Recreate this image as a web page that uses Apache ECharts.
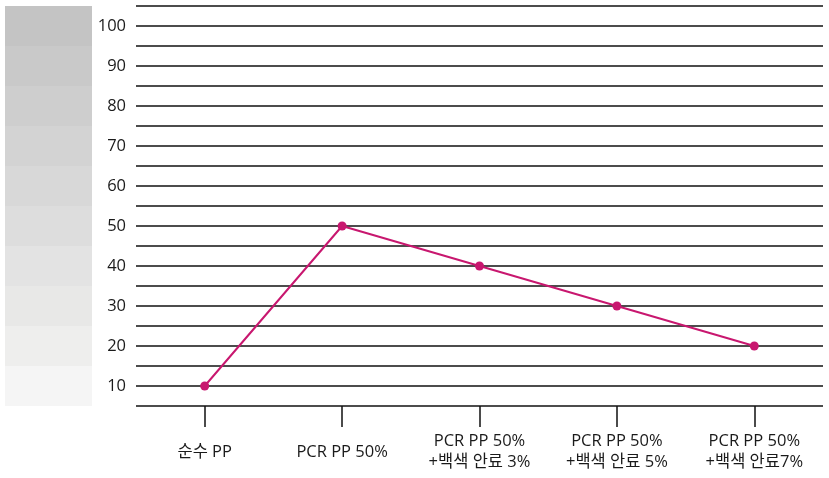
<!DOCTYPE html>
<html>
<head>
<meta charset="utf-8">
<script src="https://cdn.jsdelivr.net/npm/echarts@6/dist/echarts.min.js"></script>
<style>
  html, body { margin: 0; padding: 0; background: #fff; }
  #chart { width: 829px; height: 478px; }
</style>
</head>
<body>
<div id="chart"></div>
<script>
// 카테고리와 값
var categories = ['순수 PP', 'PCR PP 50%', 'PCR PP 50%\n+백색 안료 3%', 'PCR PP 50%\n+백색 안료 5%', 'PCR PP 50%\n+백색 안료7%'];
var values = [10, 50, 40, 30, 20];
var bandLevels = [100, 90, 80, 70, 60, 50, 40, 30, 20, 10];

// 왼쪽 회색 띠 색상 (위에서 아래로)
var bandColors = ['#c4c4c4', '#c9c9c9', '#cecece', '#d3d3d3', '#d8d8d8',
                  '#dddddd', '#e3e3e3', '#e8e8e7', '#eeeeed', '#f5f5f5'];

var font = '"Open Sans", "Noto Sans CJK KR", sans-serif';

function chart_init() {
    var myChart = echarts.init(document.getElementById('chart'));

    var bands = bandLevels.map(function (v, i) {
        return [{ yAxis: v - 5, itemStyle: { color: bandColors[i] } }, { yAxis: v + 5 }];
    });

    var option = {
        animation: false,
        grid: [
            { left: 136, right: 6, top: 6, bottom: 72 },
            { left: 5, width: 87, top: 6, bottom: 72 }
        ],
        xAxis: [
            {
                type: 'category',
                gridIndex: 0,
                data: categories,
                axisLine: { show: false },
                axisTick: { show: true, alignWithLabel: true, length: 21, lineStyle: { color: '#111', width: 1.5 } },
                axisLabel: {
                    color: '#1a1a1a',
                    fontSize: 16.5,
                    fontFamily: font,
                    lineHeight: 21,
                    margin: 46,
                    verticalAlign: 'middle',
                    interval: 0
                }
            },
            { type: 'value', gridIndex: 1, min: 0, max: 1, show: false }
        ],
        yAxis: [
            {
                type: 'value',
                gridIndex: 0,
                min: 5,
                max: 105,
                interval: 5,
                axisLine: { show: false },
                axisTick: { show: false },
                splitLine: { lineStyle: { color: '#111', width: 1.6 } },
                axisLabel: {
                    color: '#1a1a1a',
                    fontSize: 16.5,
                    fontFamily: font,
                    margin: 10,
                    formatter: function (v) {
                        return (v % 10 === 0) ? String(v) : '';
                    }
                }
            },
            { type: 'value', gridIndex: 1, min: 5, max: 105, show: false }
        ],
        series: [
            {
                type: 'line',
                xAxisIndex: 0,
                yAxisIndex: 0,
                data: values,
                symbol: 'circle',
                symbolSize: 9,
                lineStyle: { color: '#c8176f', width: 2 },
                itemStyle: { color: '#c8176f' }
            },
            {
                type: 'line',
                xAxisIndex: 1,
                yAxisIndex: 1,
                data: [[0, 5], [1, 5]],
                symbol: 'none',
                lineStyle: { opacity: 0 },
                silent: true,
                markArea: { silent: true, data: bands }
            }
        ]
    };

    myChart.setOption(option);
}

chart_init();
</script>
</body>
</html>
